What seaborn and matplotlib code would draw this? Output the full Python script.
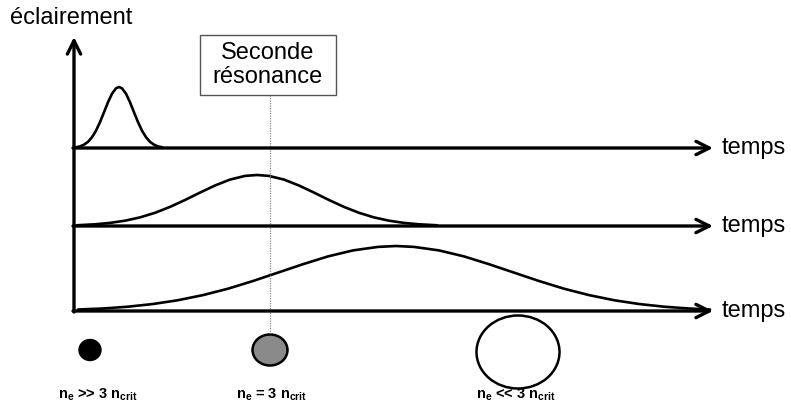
import numpy as np
import pandas as pd
import matplotlib
matplotlib.use("Agg")
import matplotlib.pyplot as plt
import seaborn as sns
from matplotlib.patches import Ellipse, Rectangle

sns.set_theme(style="white")
plt.rcParams['font.family'] = ['Liberation Sans', 'DejaVu Sans']
plt.rcParams['mathtext.fontset'] = 'custom'
plt.rcParams['mathtext.rm'] = 'Liberation Sans:bold'
plt.rcParams['mathtext.it'] = 'Liberation Sans:bold'
plt.rcParams['mathtext.bf'] = 'Liberation Sans:bold'

# ---- data (time position in px, pulse height in px) ----
baselines = [148, 226, 311]
axis_label = "éclairement"
time_label = "temps"
box_text = "Seconde\nrésonance"
resonance_t = 270

pulse1_t = [76, 80, 84, 88, 92, 96, 100, 104, 108, 112, 116, 119,
            122, 126, 130, 134, 138, 142, 146, 150, 154, 158, 162]
pulse1_h = [0.75, 1.6, 3.3, 6.2, 10.8, 17.3, 25.9, 35.7, 45.8, 54.3, 59.7, 61,
            59.7, 54.3, 45.8, 35.7, 25.9, 17.3, 10.8, 6.2, 3.3, 1.6, 0.75]

pulse2_t = [77, 95, 110, 125, 140, 155, 170, 185, 200, 215, 230, 245, 257,
            269, 284, 299, 314, 329, 344, 359, 374, 389, 404, 419, 437]
pulse2_h = [0.75, 1.7, 3.1, 5.3, 8.6, 13.2, 19.1, 26.0, 33.4, 40.5, 46.4, 50.1, 51,
            50.1, 46.4, 40.5, 33.4, 26.0, 19.1, 13.2, 8.6, 5.3, 3.1, 1.7, 0.75]

pulse3_t = [78, 103, 128, 153, 178, 203, 228, 253, 278, 303, 328, 353, 378, 396,
            414, 439, 464, 489, 514, 539, 564, 589, 614, 639, 664, 689, 710]
pulse3_h = [1.5, 2.5, 4.3, 7.0, 10.8, 15.9, 22.3, 30.0, 38.4, 46.8, 54.6, 60.6, 64.1, 65,
            64.1, 60.6, 54.6, 46.8, 38.4, 30.0, 22.3, 15.9, 10.8, 7.0, 4.3, 2.5, 1.5]

pulses = [(pulse1_t, pulse1_h), (pulse2_t, pulse2_h), (pulse3_t, pulse3_h)]

# target sizes (rx, ry) and positions, with labels
target_x = [90, 270, 518]
target_rx = [11, 17.5, 41.5]
target_ry = [10.5, 15.5, 36.5]
target_fill = ["black", "#8a8a8a", "white"]
target_labels = [r"n$_\mathregular{e}$ >> 3 n$_\mathregular{crit}$",
                 r"n$_\mathregular{e}$ = 3 n$_\mathregular{crit}$",
                 r"n$_\mathregular{e}$ << 3 n$_\mathregular{crit}$"]
target_label_x = [98, 271, 516]

# ---- figure ----
fig = plt.figure(figsize=(7.91, 4.07), dpi=100)
ax = fig.add_axes([0, 0, 1, 1])
ax.set_xlim(0, 791)
ax.set_ylim(407, 0)
ax.axis("off")

frames = []
for i, ((t, h), b) in enumerate(zip(pulses, baselines)):
    frames.append(pd.DataFrame({"t": t, "y": [b - v for v in h], "pulse": i}))
df = pd.concat(frames, ignore_index=True)
sns.lineplot(data=df, x="t", y="y", units="pulse", estimator=None, sort=False,
             color="black", lw=1.9, ax=ax, legend=False)

# vertical axis
ax.annotate("", xy=(74, 37), xytext=(74, 312),
            arrowprops=dict(arrowstyle="->", lw=2.4, color="black", mutation_scale=24,
                            shrinkA=0, shrinkB=0))
ax.text(10, 18, axis_label, fontsize=17, va="center", ha="left", color="black")

# time axes
for b in baselines:
    ax.annotate("", xy=(713, b), xytext=(73, b),
                arrowprops=dict(arrowstyle="->", lw=2.4, color="black", mutation_scale=24,
                                shrinkA=0, shrinkB=0))
    ax.text(722, b, time_label, fontsize=17, va="center", ha="left", color="black")

# resonance marker
ax.plot([resonance_t, resonance_t], [95, 333], ls=(0, (1, 1)), color="#888888", lw=0.9)
ax.add_patch(Rectangle((200, 35), 136, 60, fc="white", ec="#555555", lw=1.0, zorder=3))
ax.text(268, 65, box_text, fontsize=17, ha="center", va="center", color="black",
        linespacing=1.1, zorder=4)

# targets
for x, rx, ry, fc in zip(target_x, target_rx, target_ry, target_fill):
    ax.add_patch(Ellipse((x, 350 if rx < 40 else 352), 2 * rx, 2 * ry, fc=fc,
                         ec="black", lw=1.8 if fc != "black" else 1))
for x, lab in zip(target_label_x, target_labels):
    ax.text(x, 395, lab, fontsize=10.5, fontweight="bold", ha="center", va="center",
            color="black")

fig.savefig("out.png", dpi=100)
